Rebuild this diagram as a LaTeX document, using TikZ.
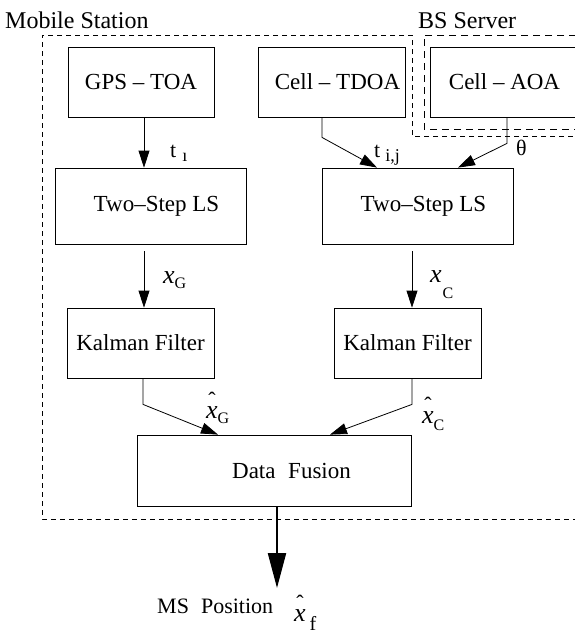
\documentclass[tikz,border=0pt]{standalone}
\usepackage{fontspec}
\setmainfont{Liberation Serif}
\usetikzlibrary{arrows.meta,calc}
\newcommand{\mkhat}[1]{\hbox{\ooalign{\hfil\raisebox{#1}{\upshape\fontsize{22}{24}\selectfont ˆ}\hfil\cr\hfil x\hfil\cr}}}
\newcommand{\lsub}[2]{\raisebox{-#1}{\upshape\fontsize{16}{18}\selectfont #2}}
\begin{document}
\begin{tikzpicture}[x=1pt,y=-1pt,
  box/.style={draw, line width=0.8pt, inner sep=0pt, font=\fontsize{23}{27}\selectfont},
  arr/.style={-{Triangle[length=17pt,width=11pt]}, line width=0.8pt},
  bigarr/.style={-{Triangle[length=35pt,width=18pt]}, line width=2.2pt},
  msdash/.style={line width=0.9pt, dash pattern=on 5pt off 4pt},
  bsdash/.style={line width=0.9pt, dash pattern=on 7pt off 5pt},
  head/.style={font=\fontsize{24}{28}\selectfont, inner sep=0pt, anchor=base west},
  lbl/.style={font=\fontsize{22}{24}\selectfont, inner sep=0pt, anchor=base west},
  mx/.style={font=\fontsize{26}{28}\selectfont\itshape, inner sep=0pt, anchor=base west}]
\useasboundingbox (0,0) rectangle (575,633);

% group frames
\node[head] (mslabel) at (5,28) {Mobile Station};
\node[head] (bslabel) at (418,28) {BS Server};
\draw[msdash] (600,136) -- (412,136) -- (412,35) -- (42,35) -- (42,519) -- (600,519);
\draw[bsdash] (600,35) -- (424,35) -- (424,129) -- (600,129);

% boxes
\node[box, minimum width=146pt, minimum height=70pt] (gps)  at (141,82)   {GPS \textendash\ TOA};
\node[box, minimum width=147pt, minimum height=70pt] (tdoa) at (331.5,82) {\hspace{12pt}Cell \textendash\ TDOA};
\node[box, minimum width=149pt, minimum height=70pt] (aoa)  at (504.5,82) {Cell \textendash\ AOA};
\node[box, minimum width=191pt, minimum height=76pt] (ts1)  at (150.5,206) {\hspace{12pt}Two\textendash Step LS};
\node[box, minimum width=191pt, minimum height=76pt] (ts2)  at (417.5,206) {\hspace{12pt}Two\textendash Step LS};
\node[box, minimum width=147pt, minimum height=70pt] (kal1) at (140.5,343) {Kalman Filter\hspace{8pt}};
\node[box, minimum width=147pt, minimum height=70pt] (kal2) at (407.5,343) {Kalman Filter\hspace{6pt}};
\node[box, minimum width=274pt, minimum height=71pt] (df)   at (274,470.5) {\hspace{35pt}Data\hspace{0.3em} Fusion};

% connectors
\draw[arr] ([xshift=3pt]gps.south) -- ([xshift=-6.5pt]ts1.north);
\draw[arr] ([xshift=-9.5pt]tdoa.south) -- ++(0,20) -- ([xshift=-40.5pt]ts2.north);
\draw[arr] ([xshift=2.5pt]aoa.south) -- ++(0,26) -- ([xshift=40.5pt]ts2.north);
\draw[arr] ([xshift=-6.5pt,yshift=-7pt]ts1.south) -- ([xshift=3.5pt]kal1.north);
\draw[arr] ([xshift=-5.5pt,yshift=-7pt]ts2.south) -- ([xshift=4.5pt]kal2.north);
\draw[arr] ([xshift=2.5pt]kal1.south) -- ++(0,26) -- ([xshift=-56pt]df.north);
\draw[arr] ([xshift=4.5pt]kal2.south) -- ++(0,26) -- ([xshift=56pt]df.north);
\coordinate (out) at (277,588);
\draw[bigarr] ([xshift=3pt]df.south) -- (out);

% labels
\node[lbl] (t1) at (170,157) {t\hspace{6pt}\raisebox{-4pt}{\fontsize{18}{18}\selectfont\i}};
\node[lbl] (t2) at (374,157) {t\hspace{5pt}\raisebox{-4pt}{\fontsize{18}{18}\selectfont i,j}};
\node[lbl] (th) at (516,155) {θ};

\node[mx] (xg) at (163,283) {x\lsub{5pt}{G}};
\node[mx] (xc) at (430,282) {x\hspace{1pt}\lsub{16pt}{C}};
\node[mx] (xhg) at (206,418) {\mkhat{11pt}\lsub{5pt}{G}};
\node[mx] (xhc) at (422,423) {\mkhat{11pt}\lsub{7pt}{C}};

\node[lbl] (msp) at (157,613) {MS\hspace{0.3em} Position};
\node[mx] (xf) at (294,621) {\mkhat{11pt}\hspace{4pt}\raisebox{-9pt}{\upshape\fontsize{20}{22}\selectfont f}};
\end{tikzpicture}
\end{document}
